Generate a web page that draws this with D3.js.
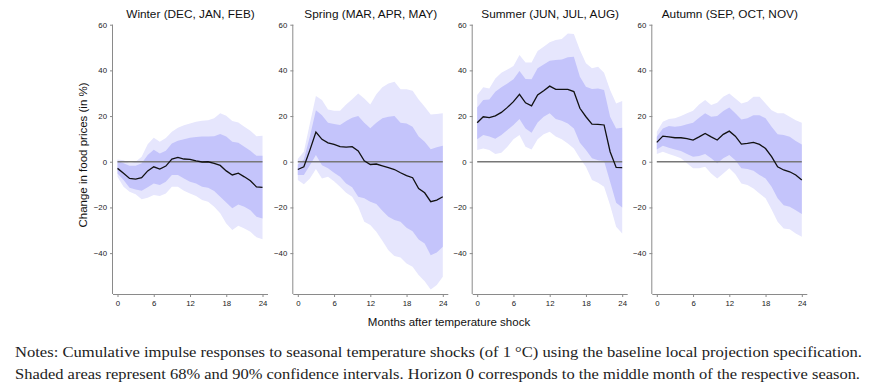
<!DOCTYPE html>
<html>
<head>
<meta charset="utf-8">
<script src="https://cdn.jsdelivr.net/npm/d3@7"></script>
<style>
  body { margin: 0; background: #fff; }
  svg { display: block; }
</style>
</head>
<body>
<div id="chart"></div>
<script>
// horizons (months after shock)
let horizons = [0, 1, 2, 3, 4, 5, 6, 7, 8, 9, 10, 11, 12, 13, 14, 15, 16, 17, 18, 19, 20, 21, 22, 23, 24];
let xTicks = [0, 6, 12, 18, 24];
let yTicks = [60, 40, 20, 0, -20, -40];

let titles = ["Winter (DEC, JAN, FEB)", "Spring (MAR, APR, MAY)", "Summer (JUN, JUL, AUG)", "Autumn (SEP, OCT, NOV)"];

// winter
let winterMean = [-2.9, -5, -7.3, -7.6, -7, -4, -2.2, -3.2, -1.9, 1.2, 1.9, 1.2, 1, 0.4, -0.1, 0, -0.7, -1.6, -4, -5.8, -5, -6.6, -8.3, -11, -11.2];
let winterHi68 = [0.4, -0.7, -1.8, -1.8, -0.7, 3, 5.3, 3.6, 4.8, 8, 9.2, 9.8, 10.5, 10.8, 11, 11.1, 11.2, 12.1, 11, 8.8, 8.3, 6.6, 4.8, 2.6, 2.6];
let winterLo68 = [-5.1, -8, -11.4, -12.1, -12.7, -11.2, -9.5, -10.2, -8.8, -5.8, -5.8, -7.3, -8.8, -9.5, -11, -11.4, -12.8, -15.3, -17.8, -20.4, -18.7, -19.7, -21.2, -24.1, -24.8];
let winterHi90 = [1, 0.7, -0.7, 0, 2.2, 7.7, 10.5, 8.8, 10.4, 13.1, 14.9, 16, 16.8, 17.5, 18, 18.2, 19, 21.2, 20.1, 17.8, 17.2, 15.3, 13.6, 11.2, 11.4];
let winterLo90 = [-6.6, -11, -13.1, -14.2, -16.4, -15.8, -14.6, -15, -13.9, -11, -11, -12.7, -13.9, -15, -16.8, -17.5, -19.7, -22.6, -27, -29.9, -28, -29.2, -30.7, -33.1, -33.9];

// spring
let springMean = [-3.4, -2.2, 5.1, 13, 9.8, 8.3, 7.6, 6.6, 6.4, 6.6, 4.7, 0.4, -1.2, -1, -1.8, -2.6, -3.4, -4.8, -6.1, -7, -11.7, -13.6, -17.5, -16.8, -15.3];
let springHi68 = [-1.2, 1, 11, 22.6, 20.4, 17.1, 16.5, 16.1, 17.8, 19.3, 20, 17.1, 14.7, 17.1, 19, 19.7, 20, 17.1, 16.8, 15.3, 11, 8.8, 5.5, 6.3, 7];
let springLo68 = [-5.8, -5.8, -1.5, 2.9, -1.5, -2.9, -4.8, -6.6, -9.5, -11.2, -15.3, -16, -17.5, -18.5, -21.5, -24.1, -25.5, -26.3, -28.9, -30.4, -34, -35.8, -40.9, -39.7, -37.2];
let springHi90 = [1.2, 4.4, 16.8, 28.8, 27, 22.9, 22.3, 22.3, 25.1, 27.4, 29.9, 27.7, 25.1, 29.5, 32.6, 34.3, 35, 31.7, 31.7, 31.1, 27.3, 24.1, 20.7, 20.9, 21.2];
let springLo90 = [-8, -9.9, -7.3, -3.2, -7.3, -6.6, -8.5, -11, -13.6, -15.3, -19.7, -26.3, -27.7, -30.7, -34.6, -38.7, -41.3, -41.9, -44.5, -46, -49.6, -52.3, -55.9, -54, -50.4];

// summer
let summerMean = [17.1, 19.7, 19.3, 20.1, 21.6, 23.8, 26.3, 29.5, 25.8, 24.5, 29.2, 31.1, 33.1, 31.7, 31.7, 31.7, 30.7, 23.4, 19.7, 16.5, 16.4, 16.1, 4.4, -2.5, -2.6];
let summerHi68 = [23.8, 27, 27.3, 30.7, 32.6, 34.3, 36.1, 39.7, 36.2, 36.1, 40.9, 42.6, 44.2, 44.5, 44.8, 45.7, 46, 37.2, 32.8, 31.8, 32.1, 31.4, 19.7, 14.6, 14.9];
let summerLo68 = [9.8, 11.7, 11, 10.1, 11.7, 13.9, 16.1, 18.7, 14.6, 12.7, 17.2, 19.7, 21.2, 18.7, 18, 16.8, 14.6, 8.3, 5.1, 1.5, 0.7, 0.3, -8.8, -18, -20];
let summerHi90 = [29.2, 32.6, 32.1, 36.5, 39, 40.4, 41.9, 46.7, 43.5, 43.5, 48.5, 50.4, 52.3, 53.3, 53.7, 56.2, 55.9, 48.9, 43.1, 40.9, 41.6, 39, 31.4, 25.5, 26.6];
let summerLo90 = [5.1, 5.8, 5.1, 3.4, 3.9, 6.6, 9.8, 11.7, 6.6, 5.4, 9.8, 12, 13.1, 11, 9.8, 8, 5.8, 1.5, -2.2, -8, -9.2, -11, -19, -28.5, -31.4];

// autumn
let autumnMean = [8.5, 11.2, 10.9, 10.5, 10.5, 10.1, 9.5, 10.9, 12.4, 10.9, 9.5, 12, 13.4, 11.2, 7.7, 8, 8.5, 7.6, 5.8, 2.2, -2.2, -3.6, -4.4, -5.8, -8];
let autumnHi68 = [10.9, 14.6, 15.6, 15.3, 15.6, 16.4, 17.1, 19.3, 21.2, 19.7, 20, 22.2, 23.8, 21.2, 18.5, 19, 20.4, 20.4, 19, 15.3, 12, 11.7, 10.9, 9.1, 7.6];
let autumnLo68 = [5.4, 7, 6.1, 5.4, 4.7, 3.4, 2.2, 2.5, 3.4, 1.5, -0.7, 1.5, 2.9, 0.7, -2.9, -3.2, -3.9, -5.8, -7.3, -11, -16, -19, -19.7, -21.2, -22.9];
let autumnHi90 = [13.1, 17.5, 18.7, 19, 20, 21.2, 22.3, 25.1, 27, 24.8, 25.8, 28.5, 29.9, 27.7, 25.5, 26.3, 28.5, 28.5, 25.5, 22.6, 21.2, 21.2, 19.7, 18.2, 17.1];
let autumnLo90 = [3.4, 4.4, 3.4, 2.5, 1.5, -0.7, -2.9, -2.9, -2.2, -5.1, -7.3, -5.1, -2.9, -5.5, -9.5, -10.2, -11.7, -13.9, -16, -20.9, -26.3, -29.2, -29.6, -31.4, -32.8];

let notes = [
  "Notes: Cumulative impulse responses to seasonal temperature shocks (of 1 \u00b0C) using the baseline local projection specification.",
  "Shaded areas represent 68% and 90% confidence intervals. Horizon 0 corresponds to the middle month of the respective season."
];

let panels = [
  {mean: winterMean, lo68: winterLo68, hi68: winterHi68, lo90: winterLo90, hi90: winterHi90},
  {mean: springMean, lo68: springLo68, hi68: springHi68, lo90: springLo90, hi90: springHi90},
  {mean: summerMean, lo68: summerLo68, hi68: summerHi68, lo90: summerLo90, hi90: summerHi90},
  {mean: autumnMean, lo68: autumnLo68, hi68: autumnHi68, lo90: autumnLo90, hi90: autumnHi90}
];

let width = 875, height = 388;
let axisX = [113, 293.3, 472.7, 652.3];   // y-axis position of each panel
let plotW = 155;

let svg = d3.select("#chart").append("svg")
  .attr("width", width)
  .attr("height", height)
  .style("font-family", "'Liberation Sans', Arial, sans-serif");

let y = d3.scaleLinear()
  .domain([-57.9, 60])
  .range([294, 24.7]);

panels.forEach((p, k) => {
  let x0 = axisX[k];
  let x = d3.scaleLinear()
    .domain([0, 24])
    .range([x0 + 4.5, x0 + 149.5]);

  let g = svg.append("g").attr("class", "panel");

  let area = (lo, hi) => d3.area()
    .x((d, i) => x(horizons[i]))
    .y0((d, i) => y(lo[i]))
    .y1((d, i) => y(hi[i]));

  g.append("path")
    .attr("d", area(p.lo90, p.hi90)(horizons))
    .style("fill", "#e6e6fd");

  g.append("path")
    .attr("d", area(p.lo68, p.hi68)(horizons))
    .style("fill", "#c4c4fb");

  // zero line
  g.append("line")
    .attr("x1", x(0)).attr("x2", x(24))
    .attr("y1", y(0)).attr("y2", y(0))
    .style("stroke", "#777")
    .style("stroke-width", 1.4);

  let line = d3.line()
    .x((d, i) => x(horizons[i]))
    .y(d => y(d));

  g.append("path")
    .attr("d", line(p.mean))
    .style("fill", "none")
    .style("stroke", "#111")
    .style("stroke-width", 1.3);

  // axes
  let yAxis = g.append("g")
    .attr("transform", "translate(" + x0 + ",0)")
    .call(d3.axisLeft(y).tickValues(yTicks).tickSize(3).tickPadding(3));

  let xAxis = g.append("g")
    .attr("transform", "translate(0," + y.range()[0] + ")")
    .call(d3.axisBottom(x).tickValues(xTicks).tickSize(3).tickPadding(3));

  xAxis.select(".domain").attr("d", "M" + x0 + ",0.5H" + (x0 + plotW));
  yAxis.select(".domain").attr("d", "M-0.5," + y(60) + "V" + y.range()[0]);

  [yAxis, xAxis].forEach(a => {
    a.selectAll(".domain").style("stroke", "#8a8a8a").style("fill", "none");
    a.selectAll(".tick line").style("stroke", "#8a8a8a");
    a.selectAll("text")
      .style("font-family", "'Liberation Sans', Arial, sans-serif")
      .style("font-size", "7.8px")
      .style("fill", "#222");
  });

  g.append("text")
    .attr("x", x0 + plotW / 2)
    .attr("y", 17.5)
    .attr("text-anchor", "middle")
    .style("font-size", "11.8px")
    .style("fill", "#111")
    .text(titles[k]);
});

svg.append("text")
  .attr("transform", "translate(87,155) rotate(-90)")
  .attr("text-anchor", "middle")
  .style("font-size", "11.5px")
  .style("fill", "#111")
  .text("Change in food prices (in %)");

svg.append("text")
  .attr("x", 449)
  .attr("y", 325.5)
  .attr("text-anchor", "middle")
  .style("font-size", "11.5px")
  .style("fill", "#111")
  .text("Months after temperature shock");

svg.selectAll(".note")
  .data(notes)
  .enter().append("text")
  .attr("class", "note")
  .attr("x", 15)
  .attr("y", (d, i) => 357 + i * 22)
  .attr("textLength", (d, i) => i === 0 ? 847 : 845)
  .attr("lengthAdjust", "spacingAndGlyphs")
  .style("font-family", "'Liberation Serif', 'DejaVu Serif', serif")
  .style("font-size", "14.5px")
  .style("fill", "#222")
  .text(d => d);
</script>
</body>
</html>
